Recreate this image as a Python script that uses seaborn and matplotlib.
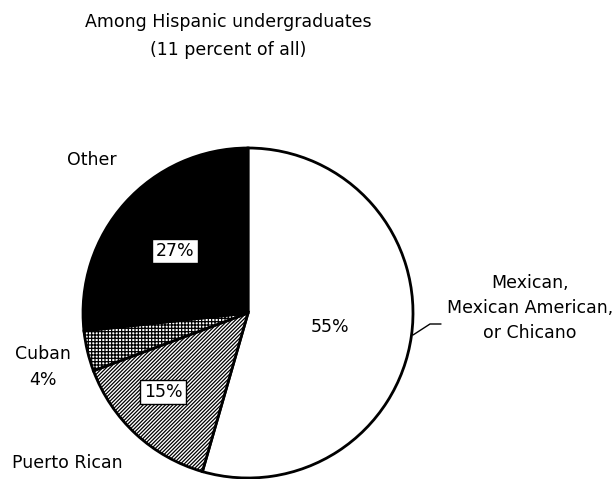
from matplotlib import pyplot as plt
import seaborn as sns

# data
groups = ['Mexican, Mexican American, or Chicano', 'Puerto Rican', 'Cuban', 'Other']
shares = [55, 15, 4, 27]
fills = ['white', 'white', 'white', 'black']
hatches = ['', '/////////', '+++++', '']

sns.set_style('white')
plt.rcParams['font.family'] = ['DejaVu Sans']
plt.rcParams['text.color'] = 'black'
plt.rcParams['hatch.linewidth'] = 0.9

fig = plt.figure(figsize=(6.16, 4.79), dpi=100)
ax = fig.add_axes([0, 0, 1, 1])

ax.pie(shares, colors=fills, hatch=hatches, startangle=90, counterclock=False,
       center=(248, 166), radius=165, frame=True,
       wedgeprops=dict(edgecolor='black', linewidth=2))
ax.set_xlim(0, 616)
ax.set_ylim(0, 479)
ax.set_aspect('equal')
ax.axis('off')

fs = 12.5
ax.text(228, 457, 'Among Hispanic undergraduates', ha='center', va='center', fontsize=fs)
ax.text(228, 429, '(11 percent of all)', ha='center', va='center', fontsize=fs)

box = dict(boxstyle='square,pad=0.2', fc='white', ec='black', lw=1)
ax.text(330, 152, '55%', ha='center', va='center', fontsize=fs)
ax.text(175, 228, '27%', ha='center', va='center', fontsize=fs, bbox=box)
ax.text(163, 87, '15%', ha='center', va='center', fontsize=fs, bbox=box)

ax.text(92, 319, 'Other', ha='center', va='center', fontsize=fs)
ax.text(43, 112, 'Cuban\n4%', ha='center', va='center', fontsize=fs, linespacing=1.6)
ax.text(67, 16, 'Puerto Rican', ha='center', va='center', fontsize=fs)
ax.text(530, 171, 'Mexican,\nMexican American,\nor Chicano', ha='center', va='center',
        fontsize=fs, linespacing=1.5)
ax.plot([413, 430, 441], [144, 155, 155], color='black', lw=1)

fig.savefig('out.png', dpi=100)
